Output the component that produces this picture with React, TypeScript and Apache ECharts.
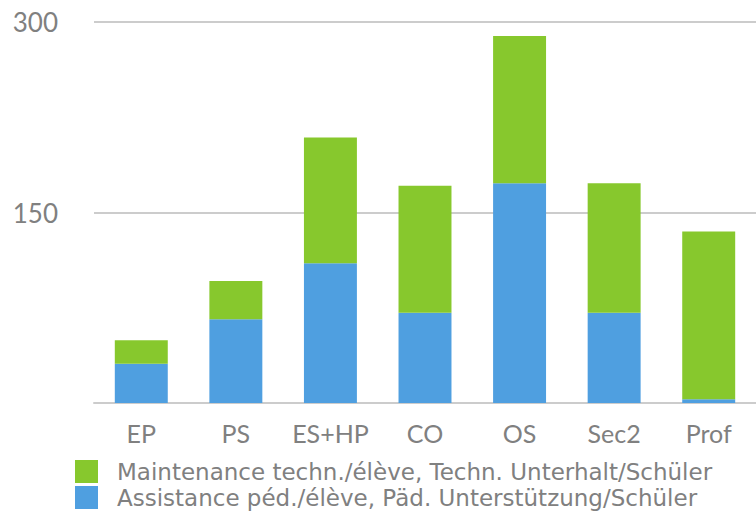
import React, { useEffect, useRef } from "react";
import * as echarts from "echarts";

const categories = ["EP", "PS", "ES+HP", "CO", "OS", "Sec2", "Prof"];
const assistance = [31, 66, 110, 71, 173, 71, 3];
const maintenance = [18.5, 30, 99, 100, 116, 102, 132];
const yTicks = [0, 150, 300];
const seriesNames = [
  "Maintenance techn./élève, Techn. Unterhalt/Schüler",
  "Assistance péd./élève, Päd. Unterstützung/Schüler",
];

const FONT = "Lato, 'Open Sans', sans-serif";
const LEGEND_FONT = "'DejaVu Sans', sans-serif";
const GRAY = "#808080";

const legendFor = (name: string, top: number) => ({
  orient: "horizontal",
  left: 75,
  top,
  itemWidth: 23,
  itemHeight: 23,
  icon: "rect",
  padding: 0,
  data: [name],
  textStyle: { color: GRAY, fontSize: 23, fontFamily: LEGEND_FONT, padding: [0, 0, 0, 14] },
});

export default function App() {
  const ref = useRef<HTMLDivElement>(null);
  useEffect(() => {
    if (!ref.current) return;
    const chart = echarts.init(ref.current, undefined, { renderer: "svg" });
    chart.setOption({
      animation: false,
      textStyle: { fontFamily: FONT },
      grid: { left: 94, right: -10, top: 22, bottom: 110 },
      legend: [legendFor(seriesNames[0], 460), legendFor(seriesNames[1], 486)],
      xAxis: {
        type: "category",
        data: categories,
        axisLine: { show: true, lineStyle: { color: "#cccccc", width: 2 } },
        axisTick: { show: false },
        axisLabel: { color: GRAY, fontSize: 25, margin: 17, fontFamily: FONT, interval: 0 },
      },
      yAxis: {
        type: "value",
        min: yTicks[0],
        max: yTicks[yTicks.length - 1],
        interval: yTicks[1] - yTicks[0],
        axisLine: { show: false },
        axisTick: { show: false },
        splitLine: { lineStyle: { color: "#cccccc", width: 2 } },
        axisLabel: {
          color: GRAY,
          fontSize: 26,
          margin: 36,
          fontFamily: FONT,
          formatter: (v: number) => (v === 0 ? "" : String(v)),
        },
      },
      series: [
        {
          name: seriesNames[1],
          type: "bar",
          stack: "a",
          data: assistance,
          barWidth: "56%",
          itemStyle: { color: "#4f9fe0" },
        },
        {
          name: seriesNames[0],
          type: "bar",
          stack: "a",
          data: maintenance,
          barWidth: "56%",
          itemStyle: { color: "#87c82d" },
        },
      ],
    });
    return () => chart.dispose();
  }, []);
  return <div ref={ref} style={{ width: 756, height: 513, position: "absolute", left: 0, top: 0 }} />;
}
